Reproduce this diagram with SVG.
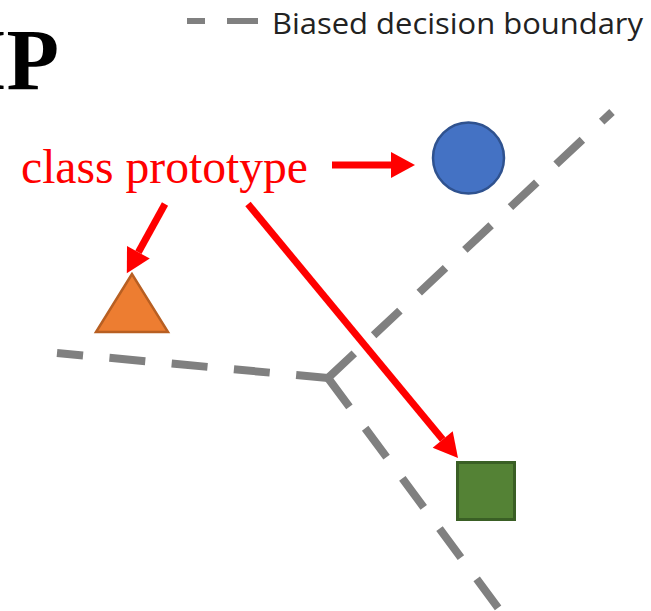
<svg xmlns="http://www.w3.org/2000/svg" width="651" height="611" viewBox="0 0 651 611">
  <style>
    .boundary { fill: none; stroke: #808080; stroke-width: 8; stroke-dasharray: 36 26.5; stroke-linecap: butt; }
    .pointer { fill: none; stroke: #FF0000; stroke-width: 7; marker-end: url(#head); }
    .label { font-family: "Liberation Serif", "Times New Roman", serif; fill: #FF0000; font-size: 48px; }
    .legend-text { font-family: "Open Sans", "Noto Sans", "Liberation Sans", sans-serif; font-size: 29px; fill: #222222; }
  </style>
  <defs>
    <marker id="head" markerUnits="userSpaceOnUse" markerWidth="24" markerHeight="26" refX="0" refY="13" orient="auto" overflow="visible">
      <path d="M0,0 L24,13 L0,26 Z" fill="#FF0000"/>
    </marker>
  </defs>

  <rect width="651" height="611" fill="#FFFFFF"/>

  <!-- heading, cut at the left edge -->
  <text x="-27" y="89" font-family="Liberation Serif, 'Times New Roman', serif" font-weight="bold" font-size="86" fill="#000000">IP</text>

  <!-- legend -->
  <g id="legend">
    <path d="M187,21 H258" stroke="#808080" stroke-width="6" fill="none" stroke-dasharray="18 22 31 40"/>
    <text class="legend-text" x="272" y="34" textLength="371" lengthAdjust="spacingAndGlyphs">Biased decision boundary</text>
  </g>

  <!-- decision boundary: three dashed rays from one junction -->
  <g id="boundary">
    <path class="boundary" d="M328,378 L612,112"/>
    <path class="boundary" d="M328,378 L57,353" stroke-dashoffset="4"/>
    <path class="boundary" d="M328,378 L507,620"/>
  </g>

  <!-- class prototypes -->
  <g id="proto-circle">
    <circle cx="468.5" cy="158" r="35.5" fill="#4472C4" stroke="#2F528F" stroke-width="2.5"/>
  </g>
  <g id="proto-triangle">
    <polygon points="132,274 96,332 168,332" fill="#ED7D31" stroke="#B85F22" stroke-width="2.5" stroke-linejoin="miter"/>
  </g>
  <g id="proto-square">
    <rect x="457.5" y="462.5" width="57" height="57" fill="#548235" stroke="#3A5F25" stroke-width="3"/>
  </g>

  <!-- annotation label -->
  <g id="label">
    <text class="label" x="21" y="183" textLength="287" lengthAdjust="spacingAndGlyphs">class prototype</text>
  </g>

  <!-- pointers from the label to each prototype -->
  <g id="connectors">
    <path class="pointer" d="M332,165 L391,165"/>
    <path class="pointer" d="M165,204 L138.4,252.3"/>
    <path class="pointer" d="M248,204 L442.7,439.5"/>
  </g>
</svg>
